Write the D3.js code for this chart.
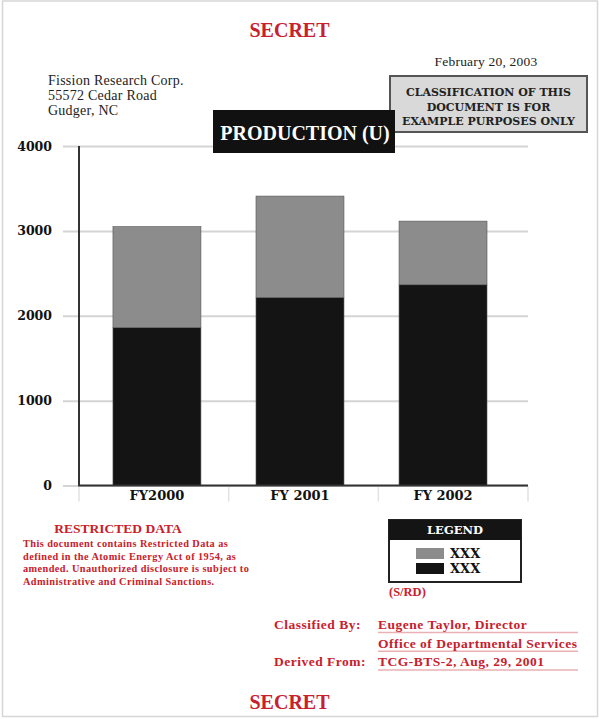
<!DOCTYPE html>
<html>
<head>
<meta charset="utf-8">
<script src="https://cdn.jsdelivr.net/npm/d3@7"></script>
<style>
  body { margin: 0; background: #fff; }
  svg { display: block; }
</style>
</head>
<body>
<svg id="chart" width="599" height="719"></svg>
<script>
// ---- data ----
const categories = ["FY2000", "FY 2001", "FY 2002"];
const blackValues = [1860, 2215, 2365];   // lower segment
const grayValues = [1190, 1195, 750];     // upper segment
const yTicks = [0, 1000, 2000, 3000, 4000];
const legendLabels = ["XXX", "XXX"];

const addressLines = ["Fission Research Corp.", "55572 Cedar Road", "Gudger, NC"];
const dateText = "February 20, 2003";
const classBoxLines = ["CLASSIFICATION OF THIS", "DOCUMENT IS FOR", "EXAMPLE PURPOSES ONLY"];
const restrictedLines = [
  "This document contains Restricted Data as",
  "defined in the Atomic Energy Act of 1954, as",
  "amended. Unauthorized disclosure is subject to",
  "Administrative and Criminal Sanctions."
];
const signoffLabels = ["Classified By:", "", "Derived From:"];
const signoffValues = ["Eugene Taylor, Director", "Office of Departmental Services", "TCG-BTS-2, Aug, 29, 2001"];

const RED = "#c8202c";
const SERIF = "'Liberation Serif', 'Times New Roman', serif";
const SLAB = "'DejaVu Serif', serif";

const svg = d3.select("#chart");

// page frame
svg.append("rect")
  .attr("x", 2.5).attr("y", 1).attr("width", 595).attr("height", 715.5)
  .attr("fill", "#fff").attr("stroke", "#d6d6d6").attr("stroke-width", 1.5);

// SECRET banners
[37, 709].forEach(y => {
  svg.append("text")
    .attr("x", 289.5).attr("y", y)
    .attr("text-anchor", "middle")
    .attr("font-family", SERIF).attr("font-weight", "bold").attr("font-size", 20)
    .attr("fill", RED)
    .text("SECRET");
});

// date
svg.append("text")
  .attr("x", 486).attr("y", 66)
  .attr("text-anchor", "middle")
  .attr("font-family", SERIF).attr("font-size", 13.5)
  .attr("letter-spacing", 0.2)
  .attr("fill", "#222")
  .text(dateText);

// address
svg.append("g").selectAll("text")
  .data(addressLines)
  .join("text")
  .attr("x", 48).attr("y", (d, i) => 85 + i * 15)
  .attr("font-family", SERIF).attr("font-size", 14)
  .attr("letter-spacing", 0.25)
  .attr("fill", "#222")
  .text(d => d);

// classification box
svg.append("rect")
  .attr("x", 390).attr("y", 76).attr("width", 197).attr("height", 56)
  .attr("fill", "#d9d9d9").attr("stroke", "#555").attr("stroke-width", 2);
svg.append("g").selectAll("text")
  .data(classBoxLines)
  .join("text")
  .attr("x", 488.5).attr("y", (d, i) => 96 + i * 14.5)
  .attr("text-anchor", "middle")
  .attr("font-family", SLAB).attr("font-weight", "bold").attr("font-size", 11)
  .attr("fill", "#222")
  .text(d => d);

// ---- chart ----
const plot = { left: 79, right: 528, top: 146, bottom: 485.5, gridLeft: 63 };

const x = d3.scaleBand()
  .domain(categories)
  .range([plot.left, plot.right])
  .paddingInner(0.385)
  .paddingOuter(0.262)
  .align(0.453);

const y = d3.scaleLinear()
  .domain([0, 4000])
  .range([plot.bottom, plot.top]);

// gridlines + tick labels
const yAxis = d3.axisLeft(y)
  .tickValues(yTicks)
  .tickSize(-(plot.right - plot.gridLeft))
  .tickPadding(11)
  .tickFormat(d3.format("d"));

const gAxis = svg.append("g")
  .attr("transform", `translate(${plot.gridLeft},0)`)
  .call(yAxis);
gAxis.select(".domain").remove();
gAxis.selectAll(".tick line").attr("stroke", "#d4d4d4").attr("stroke-width", 2);
gAxis.selectAll(".tick text")
  .attr("font-family", SLAB).attr("font-weight", "bold").attr("font-size", 12.5)
  .attr("fill", "#111");

// stacked bars
const rows = categories.map((c, i) => ({ cat: c, black: blackValues[i], gray: grayValues[i] }));
const stack = d3.stack().keys(["black", "gray"])(rows);
const fills = { black: "#141414", gray: "#8c8c8c" };

svg.append("g").selectAll("g")
  .data(stack)
  .join("g")
  .attr("fill", d => fills[d.key])
  .selectAll("rect")
  .data(d => d)
  .join("rect")
  .attr("x", d => x(d.data.cat))
  .attr("width", x.bandwidth())
  .attr("y", d => y(d[1]))
  .attr("height", d => y(d[0]) - y(d[1]))
  .attr("stroke", "#555").attr("stroke-width", 0.6);

// category separators below axis
const sepX = d3.range(categories.length + 1)
  .map(i => plot.left + i * (plot.right - plot.left) / categories.length);
svg.append("g").selectAll("line")
  .data(sepX)
  .join("line")
  .attr("x1", d => d).attr("x2", d => d)
  .attr("y1", plot.bottom + 1).attr("y2", plot.bottom + 16)
  .attr("stroke", "#e2e2e2").attr("stroke-width", 1.5);

// axis lines
svg.append("line")
  .attr("x1", plot.left).attr("x2", plot.left)
  .attr("y1", plot.top).attr("y2", plot.bottom)
  .attr("stroke", "#333").attr("stroke-width", 2);
svg.append("line")
  .attr("x1", plot.left - 1).attr("x2", plot.right)
  .attr("y1", plot.bottom).attr("y2", plot.bottom)
  .attr("stroke", "#333").attr("stroke-width", 2);

// category labels
svg.append("g").selectAll("text")
  .data(categories)
  .join("text")
  .attr("x", d => x(d) + x.bandwidth() / 2)
  .attr("y", 500)
  .attr("text-anchor", "middle")
  .attr("font-family", SLAB).attr("font-weight", "bold").attr("font-size", 13)
  .attr("fill", "#111")
  .text(d => d);

// title box (drawn over the classification box)
svg.append("rect")
  .attr("x", 213).attr("y", 110).attr("width", 182).attr("height", 43)
  .attr("fill", "#111");
svg.append("text")
  .attr("x", 305).attr("y", 140)
  .attr("text-anchor", "middle")
  .attr("font-family", SERIF).attr("font-weight", "bold").attr("font-size", 20)
  .attr("fill", "#fff")
  .text("PRODUCTION (U)");

// ---- restricted data block ----
svg.append("text")
  .attr("x", 118).attr("y", 533)
  .attr("text-anchor", "middle")
  .attr("font-family", SERIF).attr("font-weight", "bold").attr("font-size", 13.5)
  .attr("fill", RED)
  .text("RESTRICTED DATA");
svg.append("g").selectAll("text")
  .data(restrictedLines)
  .join("text")
  .attr("x", 23).attr("y", (d, i) => 547 + i * 12.7)
  .attr("font-family", SERIF).attr("font-weight", "bold").attr("font-size", 10.3)
  .attr("letter-spacing", 0.42)
  .attr("fill", RED)
  .text(d => d);

// ---- legend ----
const lg = svg.append("g").attr("transform", "translate(389,520)");
lg.append("rect")
  .attr("width", 132).attr("height", 62)
  .attr("fill", "#fff").attr("stroke", "#222").attr("stroke-width", 2);
lg.append("rect")
  .attr("width", 132).attr("height", 20)
  .attr("fill", "#141414");
lg.append("text")
  .attr("x", 66).attr("y", 14)
  .attr("text-anchor", "middle")
  .attr("font-family", SLAB).attr("font-weight", "bold").attr("font-size", 11.5)
  .attr("fill", "#fff")
  .text("LEGEND");
const legendKeys = ["gray", "black"];
const li = lg.selectAll("g.item")
  .data(legendKeys)
  .join("g")
  .attr("class", "item")
  .attr("transform", (d, i) => `translate(27,${28 + i * 15})`);
li.append("rect")
  .attr("width", 28).attr("height", 11)
  .attr("fill", d => fills[d]);
li.append("text")
  .attr("x", 34).attr("y", 9.5)
  .attr("font-family", SLAB).attr("font-weight", "bold").attr("font-size", 13)
  .attr("fill", "#111")
  .text((d, i) => legendLabels[i]);

svg.append("text")
  .attr("x", 389).attr("y", 596)
  .attr("font-family", SERIF).attr("font-weight", "bold").attr("font-size", 12.5)
  .attr("fill", RED)
  .text("(S/RD)");

// ---- sign-off block ----
const so = svg.append("g");
so.selectAll("line")
  .data(signoffValues)
  .join("line")
  .attr("x1", 378).attr("x2", 578)
  .attr("y1", (d, i) => 632.5 + i * 18.8).attr("y2", (d, i) => 632.5 + i * 18.8)
  .attr("stroke", "#eab0b3").attr("stroke-width", 1.5);
so.selectAll("text.lbl")
  .data(signoffLabels)
  .join("text")
  .attr("class", "lbl")
  .attr("x", 274).attr("y", (d, i) => 629 + i * 18.5)
  .attr("font-family", SERIF).attr("font-weight", "bold").attr("font-size", 13.5)
  .attr("letter-spacing", 0.5)
  .attr("fill", RED)
  .text(d => d);
so.selectAll("text.val")
  .data(signoffValues)
  .join("text")
  .attr("class", "val")
  .attr("x", 378).attr("y", (d, i) => 629 + i * 18.5)
  .attr("font-family", SERIF).attr("font-weight", "bold").attr("font-size", 13.5)
  .attr("letter-spacing", 0.5)
  .attr("fill", RED)
  .text(d => d);
</script>
</body>
</html>
